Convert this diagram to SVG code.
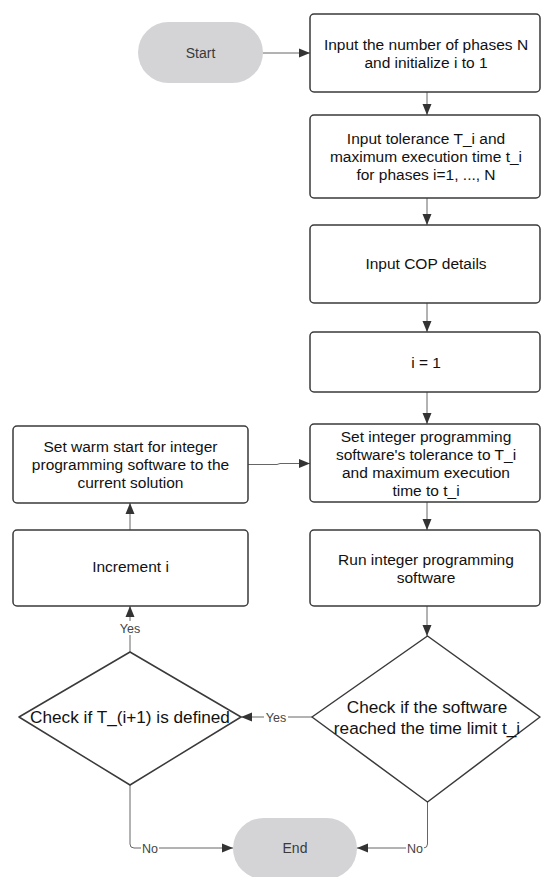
<svg xmlns="http://www.w3.org/2000/svg" width="541" height="877" viewBox="0 0 541 877">
<style>
.box{fill:#fff;stroke:#3a3a3a;stroke-width:1.5}
.pill{fill:#d4d4d7;stroke:none}
.dia{fill:#fff;stroke:#3a3a3a;stroke-width:1.5;stroke-linejoin:round}
.t{font-family:"Liberation Sans",Arial,sans-serif;font-size:15.5px;fill:#111;text-anchor:middle}
.d{font-family:"Liberation Sans",Arial,sans-serif;font-size:17.2px;fill:#111;text-anchor:middle}
.p{font-family:"Liberation Sans",Arial,sans-serif;font-size:14px;fill:#3a3a3a;text-anchor:middle}
.l{font-family:"Liberation Sans",Arial,sans-serif;font-size:12.5px;fill:#444;text-anchor:middle}
.c{fill:none;stroke:#666;stroke-width:1}
.lb{fill:#fff}
</style>
<defs>
<marker id="ah" markerUnits="userSpaceOnUse" markerWidth="12" markerHeight="10" refX="11" refY="5" orient="auto"><path d="M0,0.5 L11,5 L0,9.5 z" fill="#333"/></marker>
</defs>
<g id="connectors">
<path class="c" d="M263,53 H310" marker-end="url(#ah)"/>
<path class="c" d="M427,92 V115" marker-end="url(#ah)"/>
<path class="c" d="M427,198 V225" marker-end="url(#ah)"/>
<path class="c" d="M427,303 V332" marker-end="url(#ah)"/>
<path class="c" d="M427,392 V424" marker-end="url(#ah)"/>
<path class="c" d="M427,502 V530" marker-end="url(#ah)"/>
<path class="c" d="M427,606 V636" marker-end="url(#ah)"/>
<path class="c" d="M312,717 H241" marker-end="url(#ah)"/>
<path class="c" d="M130,652 V606" marker-end="url(#ah)"/>
<path class="c" d="M130,530 V503" marker-end="url(#ah)"/>
<path class="c" d="M248,464.5 H277 L280,463.5 H310" marker-end="url(#ah)"/>
<path class="c" d="M130,785 V844 Q130,848 134,848 H233" marker-end="url(#ah)"/>
<path class="c" d="M427.5,802 V844 Q427.5,848 423.5,848 H357" marker-end="url(#ah)"/>
<rect class="lb" x="264" y="710" width="24" height="14"/>
<text class="l" x="276" y="721.5">Yes</text>
<rect class="lb" x="119" y="621" width="22" height="14"/>
<text class="l" x="130" y="632.5">Yes</text>
<rect class="lb" x="141" y="841" width="18" height="14"/>
<text class="l" x="150" y="852.5">No</text>
<rect class="lb" x="406" y="841" width="18" height="14"/>
<text class="l" x="415" y="852.5">No</text>
</g>
<g id="start">
<rect class="pill" x="138" y="22" width="125" height="61" rx="30.5"/>
<text class="p" x="200.5" y="58">Start</text>
</g>
<g id="input-n">
<rect class="box" x="310" y="14" width="230" height="78" rx="4"/>
<text class="t" x="426" y="49.8">Input the number of phases N</text>
<text class="t" x="426" y="67.8">and initialize i to 1</text>
</g>
<g id="input-tol">
<rect class="box" x="310" y="115" width="230" height="83" rx="4"/>
<text class="t" x="426" y="144">Input tolerance T_i and</text>
<text class="t" x="426" y="162">maximum execution time t_i</text>
<text class="t" x="426" y="180">for phases i=1, ..., N</text>
</g>
<g id="input-cop">
<rect class="box" x="310" y="225" width="230" height="78" rx="4"/>
<text class="t" x="426" y="269">Input COP details</text>
</g>
<g id="i-eq-1">
<rect class="box" x="310" y="332" width="230" height="60" rx="4"/>
<text class="t" x="426" y="367.5">i = 1</text>
</g>
<g id="set-tol">
<rect class="box" x="310" y="424" width="230" height="78" rx="4"/>
<text class="t" x="426" y="441.5">Set integer programming</text>
<text class="t" x="426" y="459.5">software's tolerance to T_i</text>
<text class="t" x="426" y="477.5">and maximum execution</text>
<text class="t" x="426" y="495.5">time to t_i</text>
</g>
<g id="run">
<rect class="box" x="310" y="530" width="230" height="76" rx="4"/>
<text class="t" x="426" y="564.5">Run integer programming</text>
<text class="t" x="426" y="582.5">software</text>
</g>
<g id="warm-start">
<rect class="box" x="13" y="426" width="235" height="77" rx="4"/>
<text class="t" x="130.5" y="452">Set warm start for integer</text>
<text class="t" x="130.5" y="470">programming software to the</text>
<text class="t" x="130.5" y="488">current solution</text>
</g>
<g id="increment">
<rect class="box" x="13" y="530" width="235" height="76" rx="4"/>
<text class="t" x="130.5" y="572">Increment i</text>
</g>
<g id="check-time">
<polygon class="dia" points="427.5,636 540,717 427.5,802 312,717"/>
<text class="d" x="427" y="712.5">Check if the software</text>
<text class="d" x="427" y="733.5">reached the time limit t_i</text>
</g>
<g id="check-next">
<polygon class="dia" points="130,652 241,717 130,785 19,717"/>
<text class="d" x="130" y="723">Check if T_(i+1) is defined</text>
</g>
<g id="end">
<rect class="pill" x="233" y="818" width="124" height="61" rx="30.5"/>
<text class="p" x="295" y="853">End</text>
</g>
</svg>
